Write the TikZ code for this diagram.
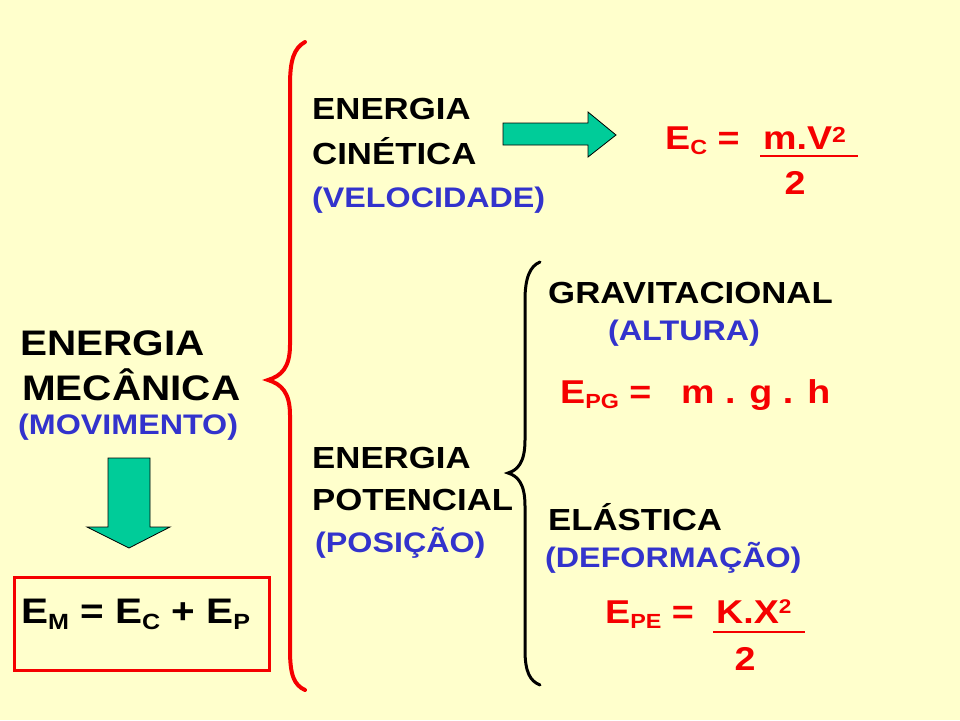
\documentclass[tikz,border=0pt]{standalone}
\usepackage{fontspec}
\usepackage{graphicx}
\setmainfont{Liberation Sans}[FakeStretch=1.14]
\definecolor{bg}{RGB}{255,255,204}
\definecolor{tblue}{RGB}{51,51,204}
\definecolor{tred}{RGB}{245,0,0}
\definecolor{agreen}{RGB}{0,204,153}
\newcommand\lo[1]{\raisebox{-0.18em}{\scalebox{0.62}{#1}}}
\newcommand\hi[1]{\raisebox{0.28em}{\scalebox{0.6}{#1}}}
\tikzset{
  lbl/.style={anchor=base west, inner sep=0, font=\fontsize{30.5}{36}\selectfont\bfseries},
  bigl/.style={anchor=base west, inner sep=0, font=\fontsize{35.5}{40}\selectfont\bfseries},
  blu/.style={anchor=base west, inner sep=0, text=tblue, font=\fontsize{28.3}{32}\selectfont\bfseries},
  frm/.style={anchor=base west, inner sep=0, text=tred, font=\fontsize{33}{38}\selectfont\bfseries},
  fbar/.style={draw=tred, line width=1.6pt},
  garrow/.style={fill=agreen, draw=black, line width=0.8pt},
  brace/.style={line width=4pt, line cap=round}
}
\begin{document}
\begin{tikzpicture}[x=1pt,y=-1pt]
\fill[bg] (0,0) rectangle (960,720);
\useasboundingbox (0,0) rectangle (960,720);

% left block
\node[bigl] (em1) at (20,355) {ENERGIA};
\node[bigl] (em2) at (22,400) {MECÂNICA};
\node[blu] (mov) at (18,434) {(MOVIMENTO)};
\draw[garrow] (108,458) -- (150,458) -- (150,527) -- (170,527) -- (129,548) -- (87,527) -- (108,527) -- cycle;
\draw[tred, line width=3pt] (14,577) rectangle (269,670);
\node[bigl] (emf) at (21,623) {E\lo{M} = E\lo{C} + E\lo{P}};

% big red brace
\draw[brace, tred] (305,42) .. controls (294,48) and (290,60) .. (290,85) -- (290,345)
  .. controls (290,368) and (281,376) .. (268,380)
  .. controls (281,384) and (290,392) .. (290,415) -- (290,650)
  .. controls (290,675) and (294,685) .. (305,690);

% cinetica
\node[lbl] (ec1) at (312,119) {ENERGIA};
\node[lbl] (ec2) at (312,164) {CINÉTICA};
\node[blu] (vel) at (312,207) {(VELOCIDADE)};
\draw[garrow] (503,123) -- (588,123) -- (588,112) -- (616,135) -- (588,157) -- (588,145) -- (503,145) -- cycle;
\node[frm] (ecl) at (665,149) {E\lo{C} =};
\node[frm] (ecn) at (763,149) {m.V\raisebox{0.2em}{\scalebox{0.66}{2}}};
\draw[fbar] (760,156) -- (858,156);
\node[frm, anchor=base] (ecd) at (795,194) {2};

% potencial
\node[lbl] (ep1) at (312,468) {ENERGIA};
\node[lbl] (ep2) at (312,510) {POTENCIAL};
\node[blu] (pos) at (315,552) {(POSIÇÃO)};

% black brace
\draw[line width=3pt, line cap=round] (540,262) .. controls (530,266) and (525,278) .. (525,300) -- (525,440)
  .. controls (525,462) and (518,470) .. (508,473)
  .. controls (518,476) and (525,484) .. (525,506) -- (525,650)
  .. controls (525,672) and (530,681) .. (540,685);

% gravitacional
\node[lbl] (gr) at (548,303) {GRAVITACIONAL};
\node[blu] (alt) at (608,340) {(ALTURA)};
\node[frm] (epgl) at (560,403) {E\lo{PG} =};
\node[frm] (epgr) at (681,403) {m . g . h};

% elastica
\node[lbl] (el) at (548,530) {ELÁSTICA};
\node[blu] (def) at (545,567) {(DEFORMAÇÃO)};
\node[frm] (epel) at (605,623) {E\lo{PE} =};
\node[frm] (epen) at (716,623) {K.X\hi{2}};
\draw[fbar] (713,632) -- (805,632);
\node[frm, anchor=base] (eped) at (745,670) {2};
\end{tikzpicture}
\end{document}
